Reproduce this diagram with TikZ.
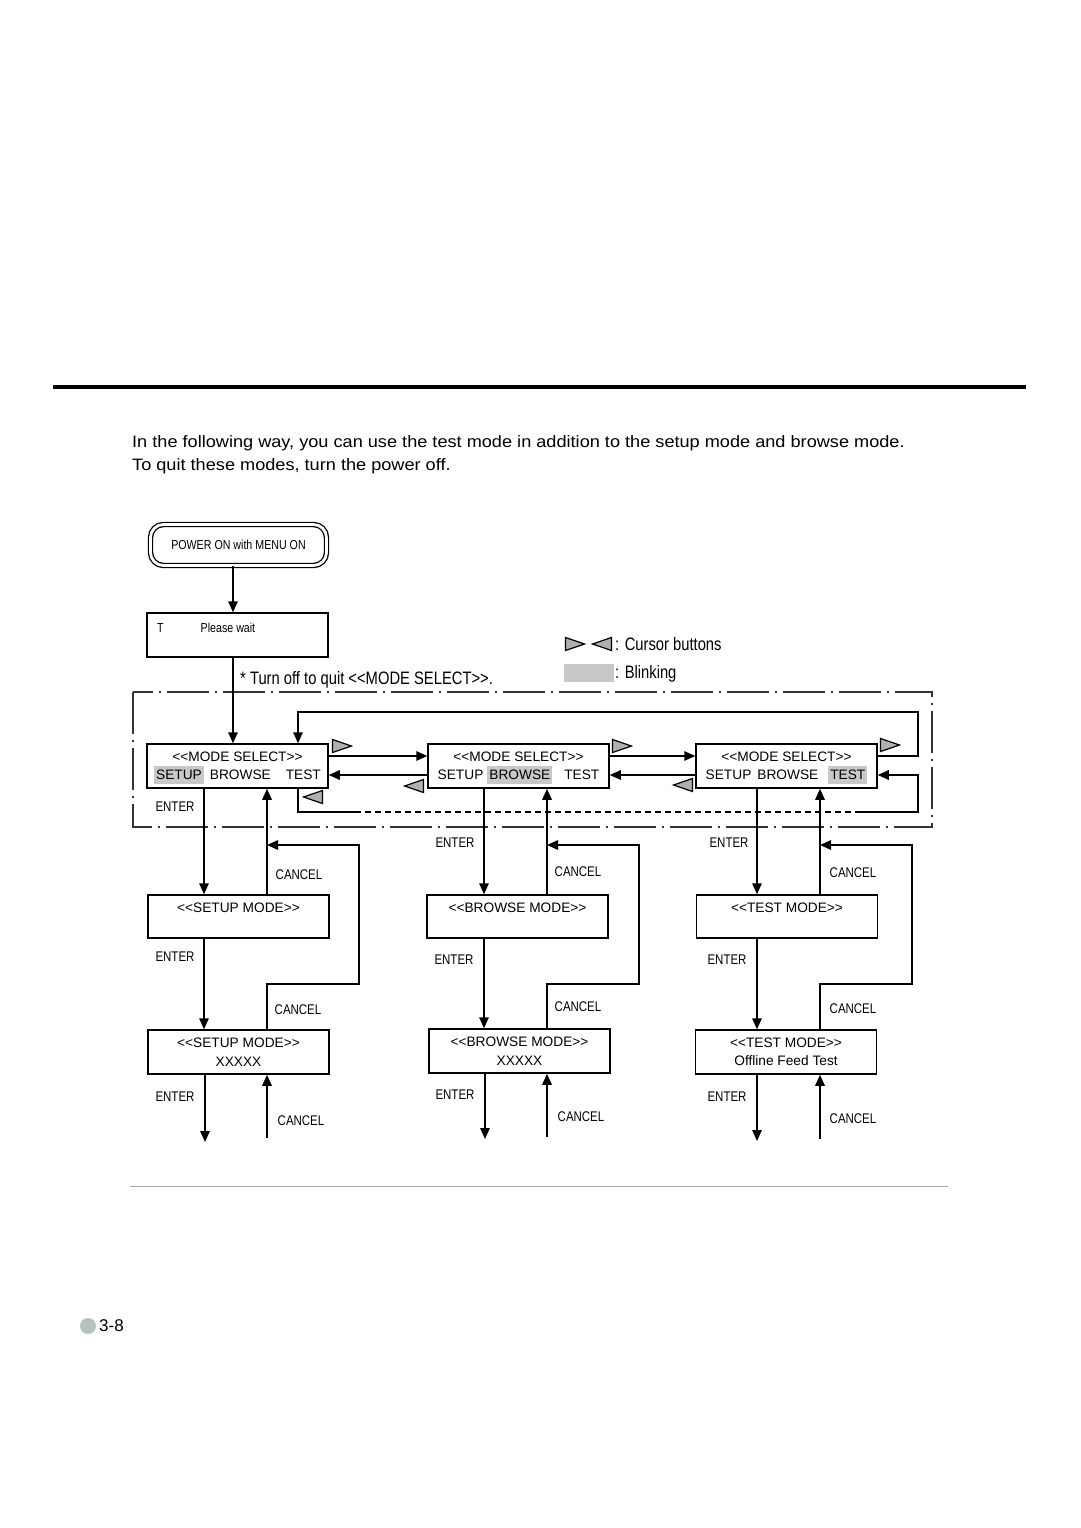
\documentclass[tikz,border=0pt]{standalone}
\usepackage{fontspec}
\setmainfont{Liberation Sans}
\newfontfamily\narrowfont[FakeStretch=0.82]{Liberation Sans}
\newfontfamily\widefont[FakeStretch=1.1]{Liberation Sans}
\usetikzlibrary{arrows.meta}
\definecolor{blinkgray}{HTML}{C8C8C8}
\definecolor{cursorgray}{HTML}{B0B0B0}
\definecolor{framegray}{HTML}{333333}
\definecolor{pagegray}{HTML}{B8C0C0}
\newcommand{\dl}{<\kern0pt<}
\newcommand{\dr}{>\kern0pt>}
\newcommand{\blink}[1]{\raisebox{0pt}[9pt][0pt]{\setlength{\fboxsep}{0pt}\colorbox{blinkgray}{\rule[-4pt]{0pt}{18pt}\hspace{2pt}#1\hspace{2pt}}}}

\tikzset{
  screen/.style={draw,line width=1.5pt,minimum width=181pt,minimum height=44pt,inner sep=0pt,align=center,font=\fontsize{13.7}{18.5}\selectfont},
  power/.style={draw,line width=1.3pt,double,double distance=2.8pt,rounded corners=13pt,minimum width=176pt,minimum height=41pt,inner sep=0pt,font=\narrowfont\fontsize{13}{15}\selectfont},
  keylabel/.style={inner sep=0pt,font=\narrowfont\fontsize{14}{16}\selectfont},
  legend/.style={inner sep=0pt,font=\narrowfont\fontsize{18}{20}\selectfont},
  flow/.style={line width=1.5pt},
  flowarrow/.style={line width=1.5pt,-{Triangle[length=11pt,width=9.5pt]}},
  cursor right/.pic={\draw[fill=cursorgray,line width=1.2pt] (-9.5,-6.5) -- (9.5,0) -- (-9.5,6.5) -- cycle;},
  cursor left/.pic={\draw[fill=cursorgray,line width=1.2pt] (9.5,-6.5) -- (-9.5,0) -- (9.5,6.5) -- cycle;}
}

\begin{document}
\begin{tikzpicture}[x=1pt,y=-1pt]
  \useasboundingbox (0,0) rectangle (1080,1528);
  %header
  \draw[line width=4pt] (53,387) -- (1026,387);
  \node[anchor=base west,inner sep=0pt,font=\widefont\fontsize{16.5}{23}\selectfont] (intro1) at (132,447) {In the following way, you can use the test mode in addition to the setup mode and browse mode.};
  \node[anchor=base west,inner sep=0pt,font=\widefont\fontsize{16.5}{23}\selectfont] (intro2) at (132,470) {To quit these modes, turn the power off.};

  %start
  \node[power] (power) at (238.5,545) {POWER ON with MENU ON};
  \node[draw,line width=1.5pt,minimum width=181pt,minimum height=44pt] (wait) at (237.5,635) {};
  \node[anchor=west,inner sep=0pt,font=\narrowfont\fontsize{13}{15}\selectfont] (waitmsg) at (157,628) {T\hspace{37pt}Please wait};
  \coordinate (s0) at (233,0);
  \draw[flowarrow] (power.south -| s0) -- (wait.north -| s0);

  %legend
  \pic at (575,644) {cursor right};
  \pic at (602,644) {cursor left};
  \node[legend,anchor=west] (cursorkey) at (615,644) {: Cursor buttons};
  \node[fill=blinkgray,minimum width=50pt,minimum height=18pt,inner sep=0pt] (blinkbox) at (589,673) {};
  \node[legend,anchor=west] (blinkkey) at (615,674) {: Blinking};
  \node[legend,anchor=west] (quitnote) at (240,680) {* Turn off to quit \dl MODE SELECT\dr.};

  %mode select
  \draw[framegray,line width=1.2pt,dash pattern=on 42pt off 6pt on 2pt off 6pt] (133,692) rectangle (932,827);
  \node[screen] (sel1) at (237.5,766) {\dl MODE SELECT\dr\\\blink{SETUP}\hspace{6pt}BROWSE\hspace{15pt}TEST};
  \node[screen] (sel2) at (518.5,766) {\dl MODE SELECT\dr\\SETUP\hspace{4pt}\blink{BROWSE}\hspace{12pt}TEST};
  \node[screen] (sel3) at (786.5,766) {\dl MODE SELECT\dr\\SETUP\hspace{6pt}BROWSE\hspace{10pt}\blink{TEST}};
  \draw[flowarrow] (wait.south -| s0) -- (sel1.north -| s0);
  \draw[flowarrow] ([yshift=10pt]sel1.east) -- ([yshift=10pt]sel1.east -| sel2.west);
  \draw[flowarrow] ([yshift=-9pt]sel2.west) -- ([yshift=-9pt]sel2.west -| sel1.east);
  \draw[flowarrow] ([yshift=10pt]sel2.east) -- ([yshift=10pt]sel2.east -| sel3.west);
  \draw[flowarrow] ([yshift=-9pt]sel3.west) -- ([yshift=-9pt]sel3.west -| sel2.east);
  %wrap round
  \coordinate (k0) at (298,0);
  \coordinate (wrapR) at (918,0);
  \coordinate (wrapT) at (0,712);
  \coordinate (dashA) at (355,812);
  \coordinate (dashB) at (857,812);
  \draw[flowarrow] ([yshift=10pt]sel3.east) -| (wrapR |- wrapT) -| (sel1.north -| k0);
  \draw[flow] (sel1.south -| k0) |- (dashA);
  \draw[flow,dash pattern=on 6pt off 4pt] (dashA) -- (dashB);
  \draw[flowarrow] (dashB) -| ([yshift=-9pt]sel3.east -| wrapR) -- ([yshift=-9pt]sel3.east);
  \pic at (342,746) {cursor right};
  \pic at (622,746) {cursor right};
  \pic at (890,745) {cursor right};
  \pic at (313,797) {cursor left};
  \pic at (414,786) {cursor left};
  \pic at (683,785) {cursor left};

  %setup
  \node[screen,minimum height=43pt] (setup) at (238.5,916.5) {\dl SETUP MODE\dr\\\mbox{}};
  \node[screen] (setupx) at (238.5,1052) {\dl SETUP MODE\dr\\XXXXX};
  \coordinate (e1) at (204,0);
  \coordinate (k1) at (267,0);
  \coordinate (lt1) at (359,845);
  \coordinate (lb1) at (359,984);
  \coordinate (out1) at (205,1142);
  \coordinate (back1) at (267,1138);
  \draw[flowarrow] (sel1.south -| e1) -- (setup.north -| e1);
  \draw[flowarrow] (setup.north -| k1) -- (sel1.south -| k1);
  \draw[flowarrow] (setup.south -| e1) -- (setupx.north -| e1);
  \draw[flowarrow] (setupx.north -| k1) |- (lb1) -- (lt1) -- (lt1 -| k1);
  \draw[flowarrow] (setupx.south -| out1) -- (out1);
  \draw[flowarrow] (back1) -- (setupx.south -| back1);
  \node[keylabel] (enter1a) at (175,807) {ENTER};
  \node[keylabel] (cancel1a) at (299,875) {CANCEL};
  \node[keylabel] (enter1b) at (175,957) {ENTER};
  \node[keylabel] (cancel1b) at (298,1010) {CANCEL};
  \node[keylabel] (enter1c) at (175,1097) {ENTER};
  \node[keylabel] (cancel1c) at (301,1121) {CANCEL};

  %browse
  \node[screen,minimum height=43pt] (browse) at (517.5,916.5) {\dl BROWSE MODE\dr\\\mbox{}};
  \node[screen] (browsex) at (519.5,1051) {\dl BROWSE MODE\dr\\XXXXX};
  \coordinate (e2) at (484,0);
  \coordinate (k2) at (547,0);
  \coordinate (lt2) at (639,845);
  \coordinate (lb2) at (639,984);
  \coordinate (out2) at (485,1139);
  \coordinate (back2) at (547,1137);
  \draw[flowarrow] (sel2.south -| e2) -- (browse.north -| e2);
  \draw[flowarrow] (browse.north -| k2) -- (sel2.south -| k2);
  \draw[flowarrow] (browse.south -| e2) -- (browsex.north -| e2);
  \draw[flowarrow] (browsex.north -| k2) |- (lb2) -- (lt2) -- (lt2 -| k2);
  \draw[flowarrow] (browsex.south -| out2) -- (out2);
  \draw[flowarrow] (back2) -- (browsex.south -| back2);
  \node[keylabel] (enter2a) at (455,843) {ENTER};
  \node[keylabel] (cancel2a) at (578,872) {CANCEL};
  \node[keylabel] (enter2b) at (454,960) {ENTER};
  \node[keylabel] (cancel2b) at (578,1007) {CANCEL};
  \node[keylabel] (enter2c) at (455,1095) {ENTER};
  \node[keylabel] (cancel2c) at (581,1117) {CANCEL};

  %test
  \node[screen,minimum height=43pt] (test) at (787,916.5) {\dl TEST MODE\dr\\\mbox{}};
  \node[screen] (testx) at (786,1052) {\dl TEST MODE\dr\\Offline Feed Test};
  \coordinate (e3) at (757,0);
  \coordinate (k3) at (820,0);
  \coordinate (lt3) at (912,845);
  \coordinate (lb3) at (912,984);
  \coordinate (out3) at (757,1141);
  \coordinate (back3) at (820,1139);
  \draw[flowarrow] (sel3.south -| e3) -- (test.north -| e3);
  \draw[flowarrow] (test.north -| k3) -- (sel3.south -| k3);
  \draw[flowarrow] (test.south -| e3) -- (testx.north -| e3);
  \draw[flowarrow] (testx.north -| k3) |- (lb3) -- (lt3) -- (lt3 -| k3);
  \draw[flowarrow] (testx.south -| out3) -- (out3);
  \draw[flowarrow] (back3) -- (testx.south -| back3);
  \node[keylabel] (enter3a) at (729,843) {ENTER};
  \node[keylabel] (cancel3a) at (853,873) {CANCEL};
  \node[keylabel] (enter3b) at (727,960) {ENTER};
  \node[keylabel] (cancel3b) at (853,1009) {CANCEL};
  \node[keylabel] (enter3c) at (727,1097) {ENTER};
  \node[keylabel] (cancel3c) at (853,1119) {CANCEL};

  %footer
  \draw[gray!70,line width=1pt] (130,1186) -- (948,1186);
  \node[circle,fill=pagegray,minimum size=16pt,inner sep=0pt] (pagedot) at (88,1326) {};
  \node[anchor=west,inner sep=0pt,font=\fontsize{17}{20}\selectfont] (pagenum) at (99,1326) {3-8};
\end{tikzpicture}
\end{document}
